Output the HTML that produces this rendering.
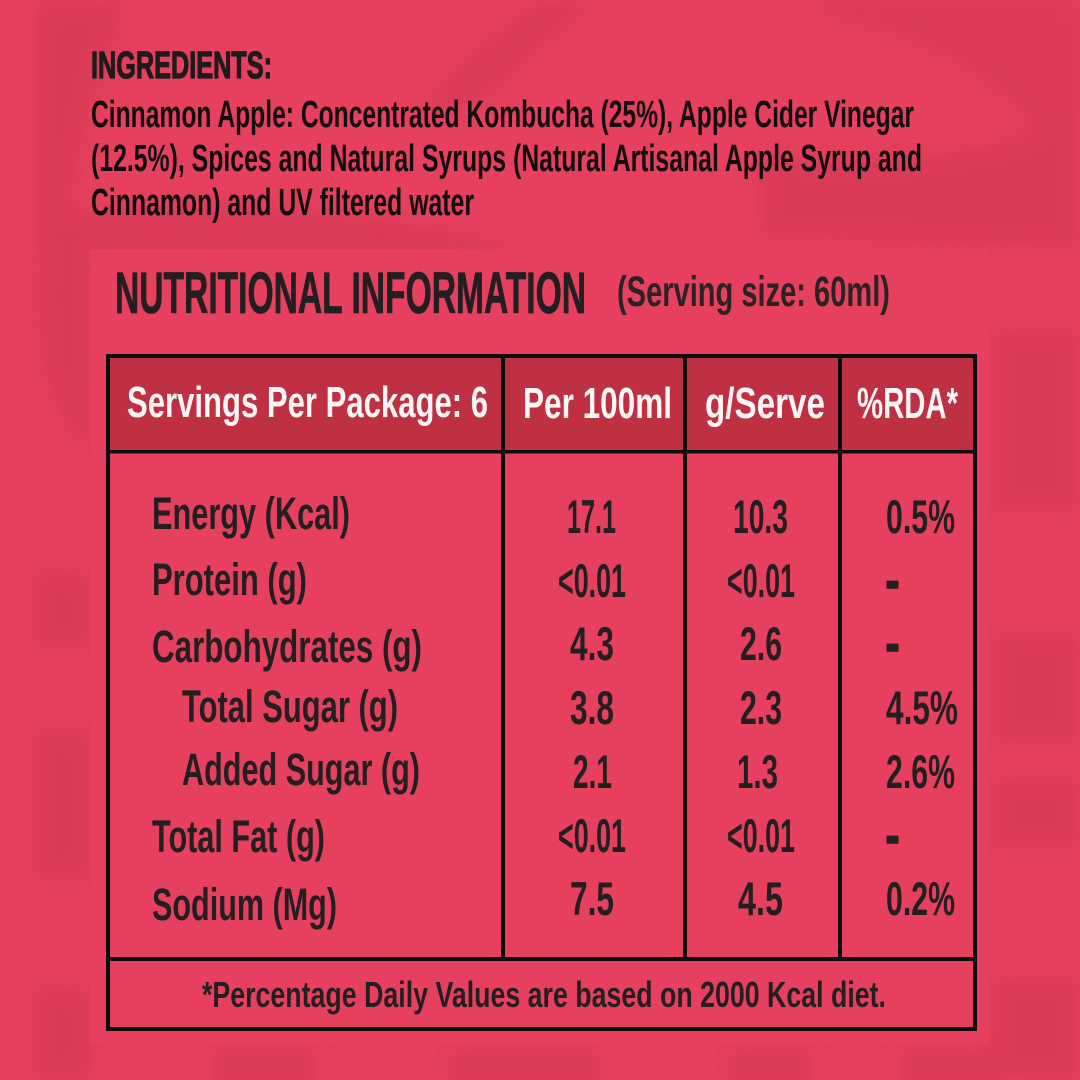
<!DOCTYPE html>
<html>
<head>
<meta charset="utf-8">
<style>
  html,body{margin:0;padding:0;background:#e6405e;}
  svg{display:block;}
  text{font-family:"Liberation Sans", "DejaVu Sans", sans-serif;}
</style>
</head>
<body>
<svg width="1080" height="1080" viewBox="0 0 1080 1080" xmlns="http://www.w3.org/2000/svg">
  <defs>
    <filter id="bl" x="-20%" y="-20%" width="140%" height="140%">
      <feGaussianBlur stdDeviation="10"/>
    </filter>
  </defs>
  <!-- background -->
  <rect x="0" y="0" width="1080" height="1080" fill="#e6405e"/>
  <g filter="url(#bl)" fill="#d93b57">
    <path d="M35,0 L130,0 C105,60 85,130 70,210 C200,195 380,205 560,255 L35,255 Z"/>
    <path d="M540,0 L600,0 C560,30 520,70 470,110 L420,110 C460,60 500,25 540,0 Z"/>
    <path d="M800,0 L1080,0 L1080,200 C1040,120 960,40 820,20 Z" opacity="0.9"/>
    <path d="M760,150 C880,170 1000,150 1080,110 L1080,250 L760,240 Z"/>
    <path d="M40,240 C60,240 90,250 95,260 L95,455 C70,440 45,400 38,350 C34,300 34,270 40,240 Z"/>
    <rect x="33" y="570" width="60" height="80"/>
    <rect x="33" y="728" width="60" height="152"/>
    <rect x="33" y="986" width="60" height="94"/>
    <rect x="990" y="330" width="90" height="183"/>
    <rect x="990" y="633" width="90" height="111"/>
    <rect x="990" y="778" width="90" height="72"/>
    <rect x="990" y="978" width="90" height="102"/>
    <rect x="213" y="1048" width="104" height="40"/>
    <rect x="446" y="1048" width="153" height="40"/>
    <rect x="727" y="1048" width="86" height="40"/>
    <rect x="899" y="1048" width="98" height="40"/>
  </g>

  <!-- ingredients -->
  <text x="91" y="78" font-size="38" font-weight="bold" fill="#1e1b1c" stroke="#1e1b1c" stroke-width="1.2" textLength="181" lengthAdjust="spacingAndGlyphs">INGREDIENTS:</text>
  <g font-size="38" font-weight="bold" fill="#120d0e">
    <text x="91" y="127" textLength="823" lengthAdjust="spacingAndGlyphs">Cinnamon Apple: Concentrated Kombucha (25%), Apple Cider Vinegar</text>
    <text x="91" y="171" textLength="831" lengthAdjust="spacingAndGlyphs">(12.5%), Spices and Natural Syrups (Natural Artisanal Apple Syrup and</text>
    <text x="91" y="215" textLength="383" lengthAdjust="spacingAndGlyphs">Cinnamon) and UV filtered water</text>
  </g>

  <!-- panel -->
  <rect x="90" y="249" width="899" height="795" fill="#e6405e"/>

  <!-- title -->
  <text x="115" y="313" font-size="58" font-weight="bold" fill="#231f20" stroke="#231f20" stroke-width="0.8" textLength="471" lengthAdjust="spacingAndGlyphs">NUTRITIONAL INFORMATION</text>
  <text x="617" y="306" font-size="43" font-weight="bold" fill="#2a2223" textLength="273" lengthAdjust="spacingAndGlyphs">(Serving size: 60ml)</text>

  <!-- table -->
  <rect x="110" y="358" width="863" height="92" fill="#bf3043"/>
  <rect x="108" y="356" width="867" height="673" fill="none" stroke="#0e0c0c" stroke-width="4"/>
  <rect x="106" y="450" width="871" height="3.5" fill="#0e0c0c"/>
  <rect x="501" y="354" width="4" height="606" fill="#0e0c0c"/>
  <rect x="683" y="354" width="4" height="606" fill="#0e0c0c"/>
  <rect x="838" y="354" width="4" height="606" fill="#0e0c0c"/>
  <rect x="106" y="957" width="871" height="4" fill="#0e0c0c"/>

  <!-- header text -->
  <g font-size="44" font-weight="bold" fill="#fff6f6">
    <text x="127" y="417" textLength="361" lengthAdjust="spacingAndGlyphs">Servings Per Package: 6</text>
    <text x="523" y="418" textLength="149" lengthAdjust="spacingAndGlyphs">Per 100ml</text>
    <text x="705" y="418" textLength="120" lengthAdjust="spacingAndGlyphs">g/Serve</text>
    <text x="857" y="418" textLength="101" lengthAdjust="spacingAndGlyphs">%RDA*</text>
  </g>

  <!-- labels -->
  <g font-size="45" font-weight="bold" fill="#231f20">
    <text x="152" y="529" textLength="198" lengthAdjust="spacingAndGlyphs">Energy (Kcal)</text>
    <text x="152" y="595" textLength="155" lengthAdjust="spacingAndGlyphs">Protein (g)</text>
    <text x="152" y="662" textLength="270" lengthAdjust="spacingAndGlyphs">Carbohydrates (g)</text>
    <text x="182" y="722" textLength="216" lengthAdjust="spacingAndGlyphs">Total Sugar (g)</text>
    <text x="182" y="785" textLength="238" lengthAdjust="spacingAndGlyphs">Added Sugar (g)</text>
    <text x="152" y="852" textLength="173" lengthAdjust="spacingAndGlyphs">Total Fat (g)</text>
    <text x="152" y="920" textLength="185" lengthAdjust="spacingAndGlyphs">Sodium (Mg)</text>
  </g>

  <!-- values -->
  <g font-size="47" font-weight="bold" fill="#231f20">
    <text x="567" y="533" textLength="49" lengthAdjust="spacingAndGlyphs">17.1</text>
    <text x="558" y="597" textLength="68" lengthAdjust="spacingAndGlyphs">&lt;0.01</text>
    <text x="570" y="660" textLength="44" lengthAdjust="spacingAndGlyphs">4.3</text>
    <text x="570" y="724" textLength="44" lengthAdjust="spacingAndGlyphs">3.8</text>
    <text x="573" y="788" textLength="39" lengthAdjust="spacingAndGlyphs">2.1</text>
    <text x="558" y="852" textLength="68" lengthAdjust="spacingAndGlyphs">&lt;0.01</text>
    <text x="570" y="915" textLength="44" lengthAdjust="spacingAndGlyphs">7.5</text>

    <text x="733" y="533" textLength="55" lengthAdjust="spacingAndGlyphs">10.3</text>
    <text x="727" y="597" textLength="68" lengthAdjust="spacingAndGlyphs">&lt;0.01</text>
    <text x="740" y="660" textLength="42" lengthAdjust="spacingAndGlyphs">2.6</text>
    <text x="740" y="724" textLength="42" lengthAdjust="spacingAndGlyphs">2.3</text>
    <text x="737" y="788" textLength="41" lengthAdjust="spacingAndGlyphs">1.3</text>
    <text x="727" y="852" textLength="68" lengthAdjust="spacingAndGlyphs">&lt;0.01</text>
    <text x="738" y="915" textLength="45" lengthAdjust="spacingAndGlyphs">4.5</text>

    <text x="886" y="533" textLength="69" lengthAdjust="spacingAndGlyphs">0.5%</text>
    <text x="886" y="597" textLength="13" lengthAdjust="spacingAndGlyphs" stroke="#231f20" stroke-width="2.5">-</text>
    <text x="886" y="660" textLength="13" lengthAdjust="spacingAndGlyphs" stroke="#231f20" stroke-width="2.5">-</text>
    <text x="886" y="724" textLength="72" lengthAdjust="spacingAndGlyphs">4.5%</text>
    <text x="886" y="788" textLength="69" lengthAdjust="spacingAndGlyphs">2.6%</text>
    <text x="886" y="852" textLength="13" lengthAdjust="spacingAndGlyphs" stroke="#231f20" stroke-width="2.5">-</text>
    <text x="886" y="915" textLength="69" lengthAdjust="spacingAndGlyphs">0.2%</text>
  </g>

  <!-- footer -->
  <text x="202" y="1007" font-size="36" font-weight="bold" fill="#231f20" textLength="684" lengthAdjust="spacingAndGlyphs">*Percentage Daily Values are based on 2000 Kcal diet.</text>
</svg>
</body>
</html>
